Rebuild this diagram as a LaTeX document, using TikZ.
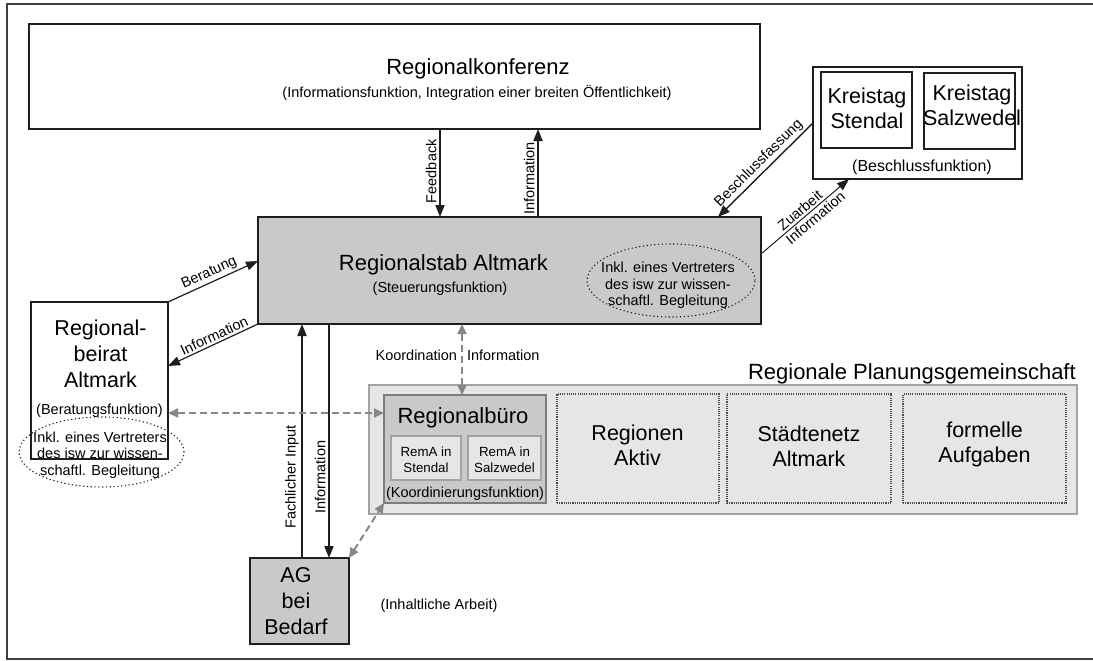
\documentclass[tikz,border=0pt]{standalone}
\usepackage{fontspec}
\setmainfont{Liberation Sans}
\usetikzlibrary{arrows.meta,shapes.geometric,calc}

\newcommand\fsTitle{\fontsize{22}{26}\selectfont}
\newcommand\fsBig{\fontsize{21.5}{25.5}\selectfont}
\newcommand\fsMid{\fontsize{16}{19}\selectfont}
\newcommand\fsSmall{\fontsize{14.5}{16.3}\selectfont}
\newcommand\fsTiny{\fontsize{13.3}{16}\selectfont}

\definecolor{ink}{HTML}{1E1E1E}
\definecolor{boxgray}{HTML}{C9C9C9}
\definecolor{panelgray}{HTML}{E6E6E6}
\definecolor{edgegray}{HTML}{A3A3A3}
\definecolor{rimgray}{HTML}{7D7D7D}
\definecolor{flowgray}{HTML}{878787}

\tikzset{
  outerframe/.style={draw=ink!85, line width=1.6pt, inner sep=0pt, outer sep=0pt},
  plainbox/.style={draw=ink, line width=1.2pt, fill=white, inner sep=0pt, outer sep=0pt},
  graybox/.style={plainbox, fill=boxgray},
  panel/.style={draw=edgegray, line width=1.6pt, fill=panelgray, inner sep=0pt, outer sep=0pt},
  officebox/.style={draw=rimgray, line width=2pt, fill=boxgray, inner sep=0pt, outer sep=0pt},
  subbox/.style={draw=edgegray, line width=1.3pt, fill=panelgray, inner sep=0pt, outer sep=0pt},
  dotbox/.style={draw=ink!80, line width=1.1pt, dash pattern=on 1.1pt off 1.1pt, fill=panelgray, inner sep=0pt, outer sep=0pt},
  dotring/.style={ellipse, draw=ink, line width=1.1pt, dash pattern=on 1.2pt off 2.6pt, inner sep=0pt, outer sep=0pt},
  txt/.style={inner sep=0pt, align=center},
  heavy/.style={draw=ink, line width=1.9pt, -{Triangle[length=12pt,width=9pt]}},
  lightarrow/.style={draw=ink, line width=1.2pt, -{Triangle[length=12pt,width=9pt]}},
  flow/.style={draw=flowgray, line width=2pt, dash pattern=on 7pt off 4pt,
    {Triangle[length=10pt,width=9pt]}-{Triangle[length=10pt,width=9pt]}},
  vlabel/.style={rotate=90, anchor=south, inner sep=2.5pt, font=\fsSmall},
  slabel/.style={sloped, inner sep=2pt, font=\fsSmall},
}

\begin{document}
\begin{tikzpicture}[x=1pt, y=-1pt]
\useasboundingbox (0,0) rectangle (1093,661);

% outer frame
\node[outerframe, minimum width=1088pt, minimum height=655pt] (frame) at (551,331.5) {};

% ---------- Regionalkonferenz ----------
\node[plainbox, minimum width=731pt, minimum height=105pt] (konf) at (394.5,76.5) {};
\node[txt, anchor=base, font=\fsTitle] (konftitle) at (478,75) {Regionalkonferenz};
\node[txt, anchor=base, font=\fsSmall] (konfsub) at (477,98)
  {(Informationsfunktion, Integration einer breiten Öffentlichkeit)};

% ---------- Kreistage ----------
\node[plainbox, minimum width=209pt, minimum height=112pt] (kreis) at (917.5,123) {};
\node[plainbox, minimum width=91pt, minimum height=76pt] (ktstendal) at (866.5,110) {};
\node[plainbox, minimum width=91pt, minimum height=76pt] (ktsalz) at (969.5,111) {};
\node[txt, font=\fsBig] (ktstendaltext) at (867,108.5) {Kreistag\\Stendal};
\node[txt, font=\fsBig] (ktsalztext) at (972,105.5) {Kreistag\\Salzwedel};
\node[txt, anchor=base, font=\fsMid] (kreisfn) at (922,171) {(Beschlussfunktion)};

% ---------- Regionalstab ----------
\node[graybox, minimum width=503pt, minimum height=107pt] (stab) at (509.5,270.5) {};
\node[txt, anchor=base, font=\fsTitle] (stabtitle) at (443.5,270) {Regionalstab Altmark};
\node[txt, anchor=base, font=\fsSmall] (stabfn) at (440,292) {(Steuerungsfunktion)};
\node[dotring, minimum width=168pt, minimum height=73pt] (stabring) at (671,280.5) {};
\node[txt, font=\fsSmall] (stabringtext) at (668,285.5)
  {Inkl. eines Vertreters\\des isw zur wissen-\\schaftl. Begleitung};

% ---------- Regionalbeirat ----------
\node[plainbox, minimum width=137pt, minimum height=157pt] (beirat) at (99.5,380.5) {};
\node[txt, font=\fsBig, text depth=0pt] (beirattext) at (100.5,354) {Regional-\\[0.5pt]beirat\\[0.5pt]Altmark};
\node[txt, anchor=base, font=\fsSmall] (beiratfn) at (99.5,414) {(Beratungsfunktion)};
\node[dotring, minimum width=165pt, minimum height=70pt] (beiratring) at (101.5,452) {};
\node[txt, font=\fsSmall] (beiratringtext) at (100,455)
  {Inkl. eines Vertreters\\des isw zur wissen-\\schaftl. Begleitung};

% ---------- Regionale Planungsgemeinschaft ----------
\node[panel, minimum width=708pt, minimum height=129pt] (rpg) at (723,449.5) {};
\node[txt, anchor=base east, font=\fsTitle] (rpglabel) at ([xshift=-1pt,yshift=6pt]rpg.north east)
  {Regionale Planungsgemeinschaft};

\node[officebox, minimum width=162pt, minimum height=108pt] (buero) at (465,449) {};
\node[txt, anchor=base, font=\fsTitle] (buerotitle) at (463,423) {Regionalbüro};
\node[subbox, minimum width=70pt, minimum height=44pt] (remastendal) at (426,458) {};
\node[subbox, minimum width=73pt, minimum height=44pt] (remasalz) at (504.5,458) {};
\node[txt, font=\fsTiny] (remastendaltext) at (426,459.5) {RemA in\\Stendal};
\node[txt, font=\fsTiny] (remasalztext) at (504.5,459.5) {RemA in\\Salzwedel};
\node[txt, anchor=base, font=\fsSmall] (buerofn) at (465,497) {(Koordinierungsfunktion)};

\node[dotbox, minimum width=162pt, minimum height=109pt] (aktiv) at (638,448.5) {};
\node[txt, font=\fsBig, text depth=0pt] (aktivtext) at (637.5,445) {Regionen\\Aktiv};
\node[dotbox, minimum width=164pt, minimum height=109pt] (staedte) at (809,448.5) {};
\node[txt, font=\fsBig, text depth=0pt] (staedtetext) at (809,446) {Städtenetz\\Altmark};
\node[dotbox, minimum width=163pt, minimum height=109pt] (formell) at (984.5,448.5) {};
\node[txt, font=\fsBig] (formelltext) at (984.5,444.5) {formelle\\Aufgaben};

% ---------- AG bei Bedarf ----------
\node[graybox, minimum width=99pt, minimum height=86pt] (ag) at (299.5,601) {};
\node[txt, font=\fsBig, text depth=0pt] (agtext) at (296,601) {AG\\[0.5pt]bei\\[0.5pt]Bedarf};
\node[txt, anchor=base, font=\fsSmall] (agfn) at (439,609) {(Inhaltliche Arbeit)};

% ---------- connectors ----------
\draw[heavy] (konf.south -| 440,0) -- node[pos=0.48, vlabel] (lblfeedback) {Feedback} (stab.north -| 440,0);
\draw[heavy] (stab.north -| 538,0) -- node[pos=0.44, vlabel] (lblinfoup) {Information} (konf.south -| 538,0);

\draw[draw=ink, line width=1.4pt, {Triangle[length=12pt,width=9pt]}-] (stab.north -| 718,0)
  -- node[slabel, above] (lblbeschluss) {Beschlussfassung} (kreis.west);
\draw[draw=ink, line width=1pt, -{Triangle[length=12pt,width=9pt]}] (stab.east |- 0,254)
  -- node[slabel, above] (lblzuarbeit) {Zuarbeit}
     node[slabel, below, pos=0.56] (lblzuinfo) {Information} (kreis.south -| 849,0);

\draw[lightarrow] (beirat.north east) -- node[slabel, above] (lblberatung) {Beratung} (stab.west |- 0,261);
\draw[draw=ink, line width=1.2pt, {Triangle[length=12pt,width=9pt]}-] (beirat.east |- 0,366)
  -- node[slabel, above, pos=0.55] (lblinfoleft) {Information} (stab.south west);

\draw[heavy] (ag.north -| 302,0) -- node[pos=0.346, vlabel] (lblinput) {Fachlicher Input} (stab.south -| 302,0);
\draw[heavy] (stab.south -| 329,0) -- node[pos=0.654, vlabel] (lblinfodown) {Information} (ag.north -| 329,0);

\draw[flow] (stab.south -| 462,0) --
  node[pos=0.44, left, inner sep=4pt, font=\fsSmall] (lblkoord) {Koordination}
  node[pos=0.44, right, inner sep=4pt, font=\fsSmall] (lblkoordinfo) {Information}
  (buero.north -| 462,0);
\draw[flow] (beirat.east |- 0,413) -- (buero.west |- 0,413);
\draw[flow] (ag.north east) -- (buero.south west);

\end{tikzpicture}
\end{document}
